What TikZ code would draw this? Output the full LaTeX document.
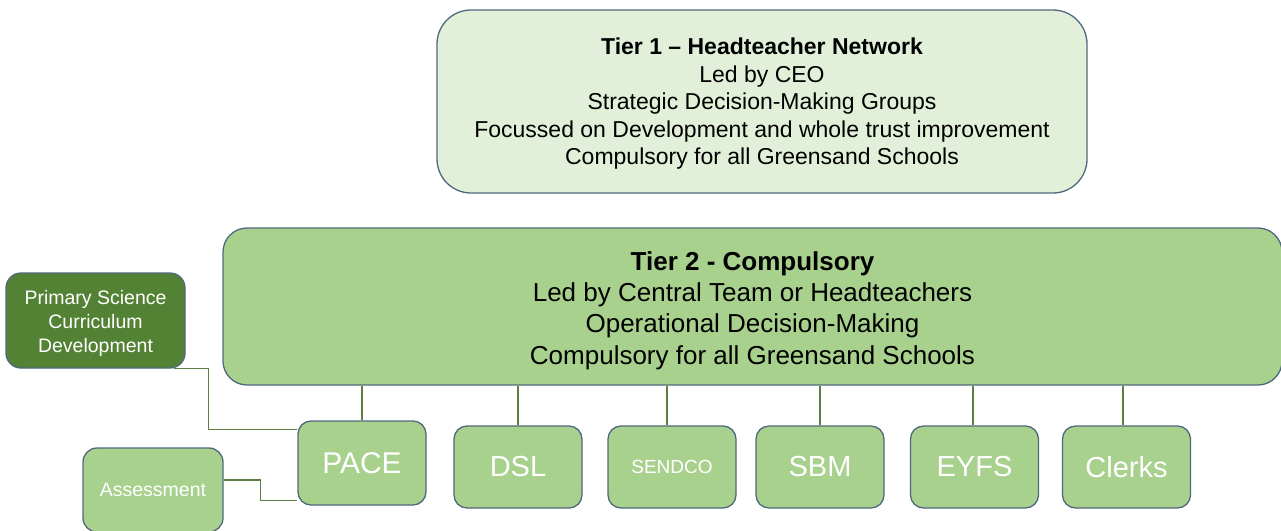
\documentclass[tikz,border=0pt]{standalone}
\usepackage{fontspec}
\setmainfont{Liberation Sans}
\definecolor{lightg}{HTML}{E2F0D9}
\definecolor{midg}{HTML}{A9D18E}
\definecolor{darkg}{HTML}{548235}
\definecolor{edgec}{HTML}{50687E}
\definecolor{linec}{HTML}{5B7E44}
\newcommand{\toppad}[1]{\rule{0pt}{#1}}
\begin{document}
\begin{tikzpicture}[x=1pt,y=-1pt,
  box/.style={draw=edgec, line width=1.3pt, inner sep=0pt, align=center},
  tierone/.style={box, fill=lightg, rounded corners=34pt, minimum width=650pt, minimum height=183pt,
    font=\fontsize{23}{27.6}\selectfont},
  tiertwo/.style={box, fill=midg, rounded corners=24pt, minimum width=1059pt, minimum height=157pt,
    font=\fontsize{26}{31.2}\selectfont},
  leaf/.style={box, fill=midg, rounded corners=13pt, minimum width=128pt, minimum height=82pt,
    text=white, font=\fontsize{29}{33}\selectfont},
  side/.style={box, rounded corners=15pt, text=white, font=\fontsize{19.5}{24}\selectfont},
  conn/.style={draw=linec, line width=1.2pt}
]
\useasboundingbox (0,0) rectangle (1281,530);

\node[tierone] (t1) at (762,101.5) {\toppad{21pt}\textbf{Tier 1 – Headteacher Network}\\Led by CEO\\Strategic Decision-Making Groups\\Focussed on Development and whole trust improvement\\Compulsory for all Greensand Schools};

\node[tiertwo] (t2) at (752.5,306.5) {\toppad{27pt}\textbf{Tier 2 - Compulsory}\\Led by Central Team or Headteachers\\Operational Decision-Making\\Compulsory for all Greensand Schools};

\node[leaf, minimum height=84pt, font=\fontsize{30}{33}\selectfont] (pace) at (362,463) {PACE};
\node[leaf] (dsl) at (518,467) {DSL};
\node[leaf, font=\fontsize{19}{22}\selectfont] (sendco) at (672,467) {SENDCO};
\node[leaf] (sbm) at (820,467) {SBM};
\node[leaf] (eyfs) at (974.5,467) {EYFS};
\node[leaf] (clerks) at (1126.5,467) {Clerks};

\node[side, fill=darkg, minimum width=179pt, minimum height=95pt] (prim) at (95.5,320.5) {\toppad{20pt}Primary Science\\Curriculum\\Development};
\node[side, fill=midg, minimum width=140pt, minimum height=84pt, rounded corners=14pt] (assess) at (153,490) {Assessment};

\draw[conn] (pace.north) -- (pace.north |- t2.south);
\draw[conn] (dsl.north) -- (dsl.north |- t2.south);
\draw[conn] ([xshift=-5pt]sendco.north) -- ([xshift=-5pt]sendco.north |- t2.south);
\draw[conn] (sbm.north) -- (sbm.north |- t2.south);
\draw[conn] ([xshift=-1.5pt]eyfs.north) -- ([xshift=-1.5pt]eyfs.north |- t2.south);
\draw[conn] ([xshift=-3.5pt]clerks.north) -- ([xshift=-3.5pt]clerks.north |- t2.south);

\draw[conn] ([xshift=-12pt]prim.south east) -- ++(35,0) |- ([yshift=-9pt]pace.north west);
\draw[conn] ([yshift=10pt]assess.east) -- ++(37,0) |- ([yshift=5pt]pace.south west);
\end{tikzpicture}
\end{document}
